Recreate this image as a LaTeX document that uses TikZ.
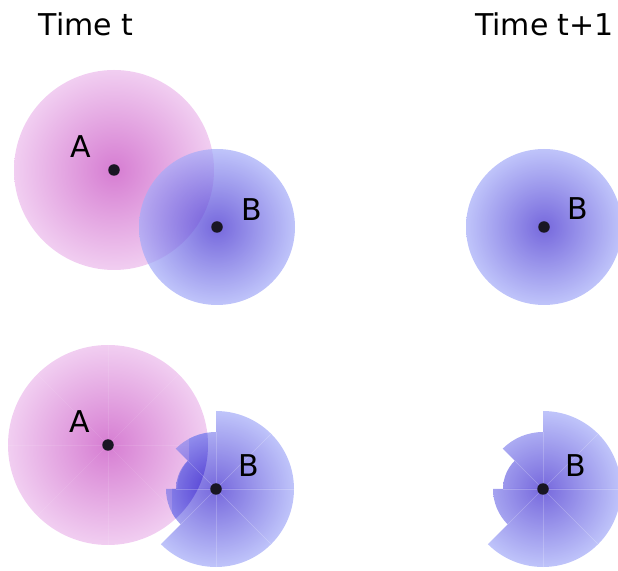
\documentclass[tikz,border=0pt]{standalone}
\usepackage{fontspec}
\setmainfont{DejaVu Sans}
\definecolor{pinkin}{RGB}{214,125,210}
\definecolor{pinkout}{RGB}{241,206,241}
\definecolor{bluein}{RGB}{60,40,206}
\definecolor{blueout}{RGB}{164,171,248}
\definecolor{dotc}{RGB}{25,22,35}
\newcommand\mysectors[1]{%
  \foreach \a/\r in {0/78,45/78,90/57,135/40,180/50,225/78,270/78,315/78}{%
    \begin{scope}
      \clip (#1) -- ++(\a:\r) arc[start angle=\a, delta angle=45, radius=\r] -- cycle;
      \shade[inner color=bluein, outer color=blueout, opacity=0.7] (#1) circle (78);
    \end{scope}
  }%
}
\begin{document}
\begin{tikzpicture}[x=1pt,y=1pt,
  lbl/.style={font=\fontsize{30}{36}\selectfont, inner sep=0pt, anchor=base},
  dotnode/.style={circle, fill=dotc, minimum size=11.5pt, inner sep=0pt},
  seam/.style={white, opacity=0.22, line width=0.6pt}]
\useasboundingbox (0,0) rectangle (618,570);
% titles
\node[lbl] (tt) at (86,534) {Time t};
\node[lbl] (tt1) at (544.5,534) {Time t+1};
% ---------- top left ----------
\coordinate (cA1) at (114,400);
\coordinate (cB1) at (217,343);
\shade[inner color=pinkin, outer color=pinkout] (cA1) circle (100);
\shade[inner color=bluein, outer color=blueout, opacity=0.7] (cB1) circle (78);
\node[dotnode] (dA1) at (cA1) {};
\node[dotnode] (dB1) at (cB1) {};
\node[lbl] (lA1) at (81,412) {A};
\node[lbl] (lB1) at (252,349) {B};
% ---------- top right ----------
\coordinate (cB2) at (544,343);
\shade[inner color=bluein, outer color=blueout, opacity=0.7] (cB2) circle (78);
\node[dotnode] (dB2) at (cB2) {};
\node[lbl] (lB2) at (578,350) {B};
% ---------- bottom left ----------
\coordinate (cA3) at (108,125);
\coordinate (cB3) at (216,81);
\shade[inner color=pinkin, outer color=pinkout] (cA3) circle (100);
\foreach \a in {0,45,...,315}{\draw[seam, opacity=0.1] (cA3) -- ++(\a:100);}
\mysectors{cB3}
\begin{scope}
  \clip (cA3) circle (100);
  \clip (189,150) -- (189,110) arc[start angle=135, end angle=180, radius=40] -- (172,81) -- (172,0) -- (300,0) -- (300,150) -- cycle;
  \mysectors{cB3}
\end{scope}
\foreach \a/\r in {0/78,45/78,90/57,135/40,180/40,225/50,270/78,315/78}{\draw[seam] (cB3) -- ++(\a:\r);}
\node[dotnode] (dA3) at (cA3) {};
\node[dotnode] (dB3) at (cB3) {};
\node[lbl] (lA3) at (80,137) {A};
\node[lbl] (lB3) at (248.5,93.5) {B};
% ---------- bottom right ----------
\coordinate (cB4) at (543,81);
\mysectors{cB4}
\foreach \a/\r in {0/78,45/78,90/57,135/40,180/40,225/50,270/78,315/78}{\draw[seam] (cB4) -- ++(\a:\r);}
\node[dotnode] (dB4) at (cB4) {};
\node[lbl] (lB4) at (575.5,93.5) {B};
\end{tikzpicture}
\end{document}
